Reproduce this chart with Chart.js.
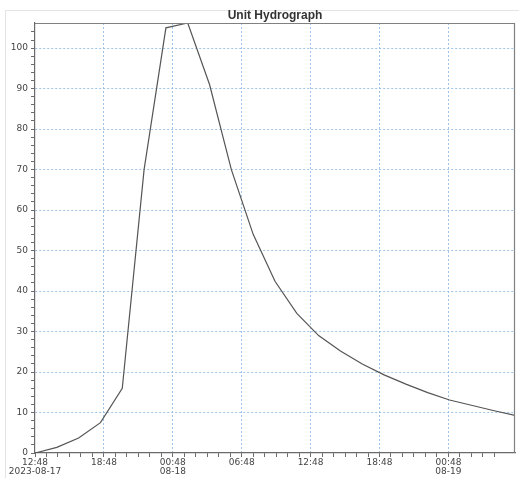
<!DOCTYPE html>
<html>
<head>
<meta charset="utf-8">
<script src="https://cdn.jsdelivr.net/npm/chart.js@4/dist/chart.umd.min.js"></script>
<style>
  html, body { margin: 0; padding: 0; background: #ffffff; }
  canvas { display: block; }
</style>
</head>
<body>
<canvas id="c" width="519" height="478"></canvas>
<script>
// ---- Data ----
const chartTitle = "Unit Hydrograph";
const startTime = "2023-08-17T12:48:00Z";     // first sample
const stepHours = 1.9;                          // time step between samples (hours)
const flowValues = [0, 1.4, 3.7, 7.5, 16.0, 70, 105, 106.2, 91, 70, 54, 42.4, 34.5, 29.0,
                    25.2, 22.0, 19.3, 17.0, 14.9, 13.1, 11.8, 10.5, 9.3];
const sampleHours = [0, 1.9, 3.8, 5.7, 7.6, 9.5, 11.4, 13.3, 15.2, 17.1, 19.0, 20.9, 22.8, 24.7,
                     26.6, 28.5, 30.4, 32.3, 34.2, 36.1, 38.0, 39.9, 41.8];
const yMax = 106.2;
const yMajorStep = 10;
const yMinorStep = 2;
const xMajorHours = 6;

const points = sampleHours.map((h, i) => ({ x: h, y: flowValues[i] }));
const t0 = new Date(startTime).getTime();
const pad = n => String(n).padStart(2, '0');

function xLabel(v) {
  if (v % xMajorHours !== 0) return '';
  const d = new Date(t0 + v * 3600000);
  const hm = pad(d.getUTCHours()) + ':' + pad(d.getUTCMinutes());
  if (v === 0) return [hm, d.getUTCFullYear() + '-' + pad(d.getUTCMonth() + 1) + '-' + pad(d.getUTCDate())];
  const prev = new Date(t0 + (v - xMajorHours) * 3600000);
  if (prev.getUTCDate() !== d.getUTCDate()) return [hm, pad(d.getUTCMonth() + 1) + '-' + pad(d.getUTCDate())];
  return hm;
}

const gridBlue = 'rgba(150,190,230,0.9)';
const axisGray = '#6a6a6a';

const framePlugin = {
  id: 'frame',
  beforeDraw(chart) {
    const ctx = chart.ctx;
    ctx.save();
    ctx.strokeStyle = '#e4e4e4';
    ctx.lineWidth = 1;
    ctx.strokeRect(5.5, 10.5, 530, 480);
    ctx.restore();
  },
  afterDraw(chart) {
    const { ctx, chartArea: a } = chart;
    ctx.save();
    ctx.strokeStyle = '#808080';
    ctx.lineWidth = 1.2;
    ctx.beginPath();
    ctx.moveTo(a.left, a.top + 0.5);
    ctx.lineTo(a.right - 0.5, a.top + 0.5);
    ctx.lineTo(a.right - 0.5, a.bottom);
    ctx.stroke();
    ctx.fillStyle = '#333';
    ctx.font = 'bold 12px "Liberation Sans", Arial, sans-serif';
    ctx.textAlign = 'center';
    ctx.textBaseline = 'alphabetic';
    ctx.fillText(chartTitle, (a.left + a.right) / 2, a.top - 4);
    ctx.restore();
  }
};

new Chart(document.getElementById('c'), {
  type: 'line',
  data: {
    datasets: [{
      data: points,
      borderColor: '#555555',
      borderWidth: 1.2,
      pointRadius: 0,
      tension: 0,
      fill: false
    }]
  },
  options: {
    responsive: false,
    animation: false,
    layout: { padding: { top: 23, right: 4, left: 0, bottom: 0 } },
    plugins: { legend: { display: false }, title: { display: false }, tooltip: { enabled: false } },
    scales: {
      x: {
        type: 'linear',
        min: 0,
        max: sampleHours[sampleHours.length - 1],
        afterBuildTicks(scale) {
          scale.ticks = scale.ticks.filter(t => Number.isInteger(t.value));
        },
        afterFit(scale) { scale.height = 25; },
        ticks: {
          stepSize: 1,
          autoSkip: false,
          maxRotation: 0,
          padding: 1,
          color: '#444',
          font: { family: '"DejaVu Sans", sans-serif', size: 9, lineHeight: 1.0 },
          callback: v => xLabel(v)
        },
        grid: {
          color: c => (c.tick && c.tick.value % xMajorHours === 0 && c.tick.value !== 0) ? gridBlue : 'rgba(0,0,0,0)',
          lineWidth: 1,
          drawTicks: true,
          tickLength: 4,
          tickColor: axisGray,
          tickBorderDash: [],
          tickWidth: 1
        },
        border: { display: true, color: axisGray, width: 1.2, dash: [2, 2] }
      },
      y: {
        type: 'linear',
        min: 0,
        max: yMax,
        afterBuildTicks(scale) {
          scale.ticks = scale.ticks.filter(t => Number.isInteger(t.value) && t.value % yMinorStep === 0);
        },
        afterFit(scale) { scale.width = 35; },
        ticks: {
          stepSize: yMinorStep,
          autoSkip: false,
          padding: 3,
          color: '#444',
          font: { family: '"DejaVu Sans", sans-serif', size: 9 },
          callback: v => (v % yMajorStep === 0 ? String(v) : '')
        },
        grid: {
          color: c => (c.tick && c.tick.value % yMajorStep === 0 && c.tick.value !== 0) ? gridBlue : 'rgba(0,0,0,0)',
          lineWidth: 1,
          drawTicks: true,
          tickLength: 4,
          tickColor: axisGray,
          tickBorderDash: [],
          tickWidth: 1
        },
        border: { display: true, color: axisGray, width: 1.2, dash: [2, 2] }
      }
    }
  },
  plugins: [framePlugin]
});
</script>
</body>
</html>
